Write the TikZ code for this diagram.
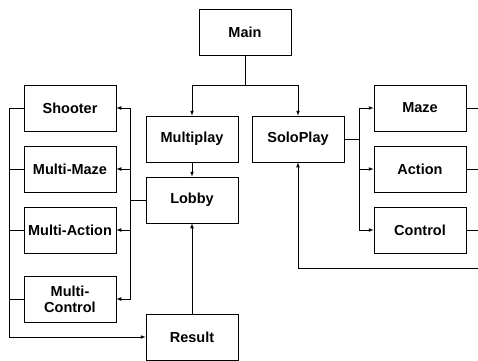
\documentclass[tikz,border=0pt]{standalone}
\usepackage{fontspec}
\setmainfont{Liberation Sans}
\begin{document}
\begin{tikzpicture}[x=1pt,y=-1pt,>=latex,line width=0.7pt,
    screen/.style={draw, minimum width=92pt, minimum height=46pt, inner sep=1pt,
      font=\bfseries\fontsize{14.5}{16}\selectfont, align=center}]
  \useasboundingbox (0,0) rectangle (478,360);
  % top level
  \node[screen] (main) at (245,32) {Main};
  \node[screen] (multi) at (192,139) {Multiplay};
  \node[screen] (solo) at (298,139) {SoloPlay};
  \node[screen] (lobby) at (192,200) {Lobby};
  \node[screen] (result) at (192,337) {Result};
  % multiplayer games
  \node[screen] (shooter) at (70,108) {Shooter};
  \node[screen] (mmaze) at (70,169) {Multi-Maze};
  \node[screen] (maction) at (70,230) {Multi-Action};
  \node[screen] (mcontrol) at (70,299) {Multi-\\Control};
  % solo games
  \node[screen] (maze) at (420,108) {Maze};
  \node[screen] (action) at (420,169) {Action};
  \node[screen] (control) at (420,230) {Control};
  \coordinate (edge) at (478,268);
  \coordinate (lbus) at (9,337);
  \coordinate (hub) at (130,200);
  \coordinate (shub) at (359,139);

  \draw[->] (main.south) -- ++(0,30) -| (multi.north);
  \draw[->] (main.south) -- ++(0,30) -| (solo.north);
  \draw[->] (multi) -- (lobby);
  \draw[->] (result) -- (lobby);
  \foreach \g in {shooter,mmaze,maction,mcontrol}{
    \draw[->] (lobby.west) -- (hub) |- (\g.east);
    \draw (\g.west) -- (\g.west -| lbus);
  }
  \draw[->] (shooter.west -| lbus) |- (result.west);
  \foreach \g in {maze,action,control}{
    \draw[->] (solo.east) -- (shub) |- (\g.west);
    \draw (\g.east) -- (\g.east -| edge);
  }
  \draw[->] (edge) -| (solo.south);
\end{tikzpicture}
\end{document}
